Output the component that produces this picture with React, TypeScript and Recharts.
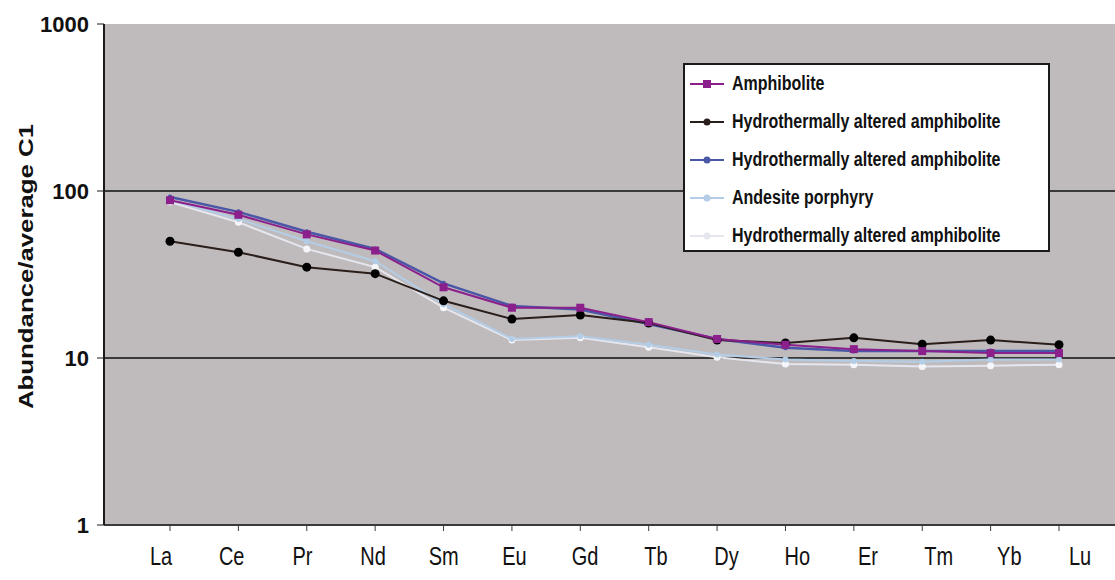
import { LineChart, Line, XAxis, YAxis, CartesianGrid, Legend, Label } from "recharts";

const elements = ["La", "Ce", "Pr", "Nd", "Sm", "Eu", "Gd", "Tb", "Dy", "Ho", "Er", "Tm", "Yb", "Lu"];
const amphibolite = [88, 72, 55, 44, 26.5, 20, 20, 16.4, 13, 12, 11.3, 11, 10.7, 10.7];
const altered1 = [50, 43, 35, 32, 22, 17.1, 18.1, 16.2, 12.8, 12.3, 13.2, 12.1, 12.8, 12];
const altered2 = [92, 75, 57, 45, 28, 20.5, 19.5, 16, 13, 11.5, 11, 11, 11, 11];
const andesite = [88, 68, 50, 38, 21, 13, 13.5, 12, 10.5, 9.8, 9.6, 9.5, 9.8, 9.8];
const altered3 = [86, 65, 45, 35, 20, 12.8, 13.2, 11.6, 10.1, 9.2, 9.1, 8.9, 9, 9.1];
const yTicks = [1, 10, 100, 1000];

const series = [
  { key: "amphibolite", name: "Amphibolite", color: "#8b1f8b" },
  { key: "altered1", name: "Hydrothermally altered amphibolite", color: "#2a1e1a" },
  { key: "altered2", name: "Hydrothermally altered amphibolite", color: "#4a56a6" },
  { key: "andesite", name: "Andesite porphyry", color: "#b4cde6" },
  { key: "altered3", name: "Hydrothermally altered amphibolite", color: "#e6e6ee" },
];

const data = elements.map((el, i) => ({
  el,
  amphibolite: amphibolite[i],
  altered1: altered1[i],
  altered2: altered2[i],
  andesite: andesite[i],
  altered3: altered3[i],
}));

const font = "'Liberation Sans', Arial, sans-serif";

const squareDot = (color: string) => (p: any) => (
  <rect key={p.key} x={p.cx - 4} y={p.cy - 4} width={8} height={8} fill={color} />
);
const roundDot = (color: string, r: number) => (p: any) => (
  <circle key={p.key} cx={p.cx} cy={p.cy} r={r} fill={color} />
);

const ElementTick = ({ x, y, payload }: any) => (
  <g transform={`translate(${x},${y})`}>
    <text textAnchor="middle" dy={17} transform="scale(1,1.3)" fontSize={20} fill="#111" fontFamily={font}>
      {payload.value}
    </text>
  </g>
);

const YTitle = ({ viewBox }: any) => {
  const cx = 26;
  const cy = viewBox.y + viewBox.height / 2 - 8;
  return (
    <text
      x={cx}
      y={cy}
      transform={`rotate(-90, ${cx}, ${cy})`}
      textAnchor="middle"
      dominantBaseline="central"
      fontSize={20}
      fontWeight={700}
      fontFamily={font}
      fill="#111"
      textLength={285}
      lengthAdjust="spacingAndGlyphs"
    >
      Abundance/average C1
    </text>
  );
};

const LegendBox = () => (
  <div
    style={{
      boxSizing: "border-box",
      width: 367,
      height: 189,
      background: "#fff",
      border: "2px solid #1a1a1a",
      paddingTop: 0,
      fontFamily: font,
    }}
  >
    {series.map((s, i) => (
      <div key={i} style={{ display: "flex", alignItems: "center", height: 38 }}>
        <svg width={40} height={14} style={{ marginLeft: 5 }}>
          <line x1={0} y1={7} x2={34} y2={7} stroke={s.color} strokeWidth={2} />
          {i === 0 ? (
            <rect x={13} y={3} width={8} height={8} fill={s.color} />
          ) : (
            <circle cx={17} cy={7} r={3.5} fill={s.color} />
          )}
        </svg>
        <span
          style={{
            display: "inline-block",
            transform: "scaleY(1.25)",
            fontSize: 16,
            fontWeight: 700,
            color: "#111",
            whiteSpace: "nowrap",
            marginLeft: 2,
          }}
        >
          {s.name}
        </span>
      </div>
    ))}
  </div>
);

export default function App() {
  return (
    <div style={{ position: "absolute", left: 0, top: 0, width: 1115, height: 580, background: "#fff" }}>
      <LineChart width={1115} height={580} data={data} margin={{ top: 24, right: 0, left: 0, bottom: 0 }}>
        <CartesianGrid
          vertical={false}
          horizontalValues={[10, 100]}
          stroke="#3a3a3a"
          strokeWidth={2}
          fill="#bfbbbd"
          fillOpacity={1}
        />
        <XAxis
          dataKey="el"
          height={10}
          padding={{ left: 66, right: 56 }}
          tickSize={6}
          tickFormatter={() => ""}
          axisLine={{ stroke: "#3a3a3a", strokeWidth: 2 }}
          tickLine={{ stroke: "#3a3a3a" }}
        />
        <XAxis
          xAxisId="labels"
          dataKey="el"
          height={45}
          padding={{ left: 57, right: 35 }}
          axisLine={false}
          tickLine={false}
          interval={0}
          tick={<ElementTick />}
        />
        <YAxis
          type="number"
          scale="log"
          domain={[1, 1000]}
          ticks={yTicks}
          allowDataOverflow
          width={104}
          tickSize={7}
          tickMargin={8}
          axisLine={{ stroke: "#1a1a1a", strokeWidth: 2 }}
          tickLine={{ stroke: "#1a1a1a" }}
          tick={{ fill: "#111", fontSize: 22, fontWeight: 700, fontFamily: font }}
        >
          <Label content={<YTitle />} />
        </YAxis>
        <Legend
          layout="horizontal"
          verticalAlign="middle"
          align="center"
          wrapperStyle={{ top: 63, left: 683, width: 367 }}
          content={() => <LegendBox />}
        />
        <Line dataKey="altered3" name={series[4].name} stroke={series[4].color} strokeWidth={2} dot={roundDot("#f6f6fa", 3.5)} isAnimationActive={false} />
        <Line dataKey="andesite" name={series[3].name} stroke={series[3].color} strokeWidth={2} dot={roundDot(series[3].color, 3)} isAnimationActive={false} />
        <Line dataKey="altered2" name={series[2].name} stroke={series[2].color} strokeWidth={2.5} dot={roundDot(series[2].color, 2.5)} isAnimationActive={false} />
        <Line dataKey="altered1" name={series[1].name} stroke={series[1].color} strokeWidth={2} dot={roundDot("#000", 4.5)} isAnimationActive={false} />
        <Line dataKey="amphibolite" name={series[0].name} stroke={series[0].color} strokeWidth={2} dot={squareDot(series[0].color)} isAnimationActive={false} />
      </LineChart>
    </div>
  );
}
